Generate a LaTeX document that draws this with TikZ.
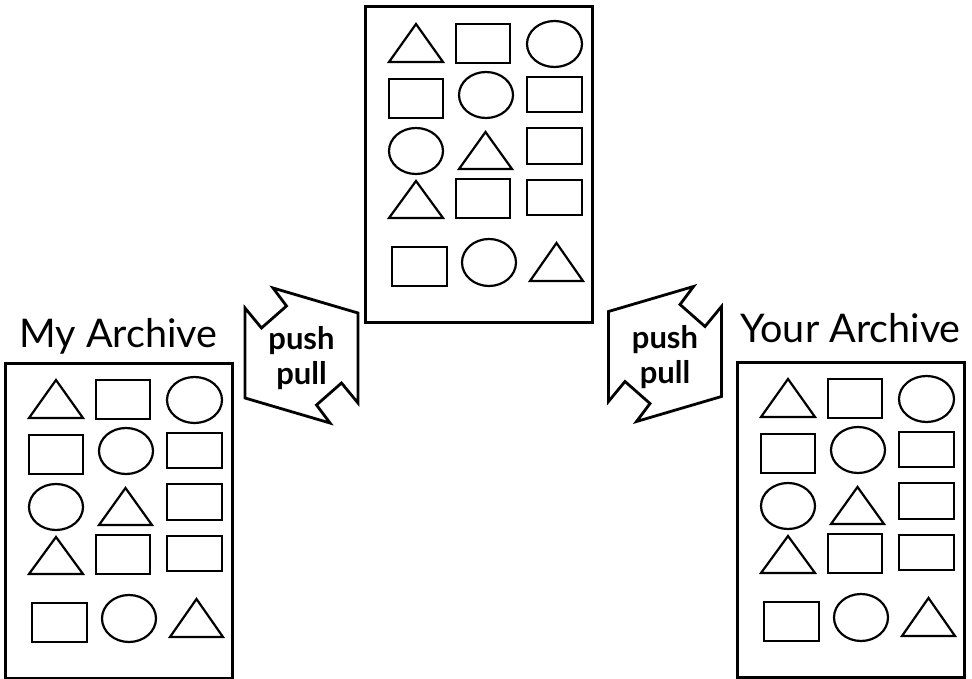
\documentclass[tikz,border=0pt]{standalone}
\usepackage{fontspec}
\setmainfont{Lato}
\usetikzlibrary{positioning}

% small figures inside an archive sheet (coordinates relative to its top left corner)
\newcommand{\archtri}[4]{\draw[figure line] (#1,#4) -- ({(#1+#3)/2},#2) -- (#3,#4) -- cycle;}
\newcommand{\archrect}[4]{\draw[figure line] (#1,#2) rectangle (#3,#4);}
\newcommand{\archoval}[4]{\draw[figure line] (#1,#2) ellipse [x radius=#3pt, y radius=#4pt];}

\begin{document}
\begin{tikzpicture}[
        x=1pt, y=-1pt,
        figure line/.style={line width=2.2pt, line join=miter},
        archive frame/.style={
            draw, line width=3pt, inner sep=0pt, outer sep=0pt,
            minimum width=227pt, minimum height=315pt
        },
        archive label/.style={font=\fontsize{39.5}{46}\selectfont, inner sep=0pt},
        sync line/.style={line width=2.8pt, line join=miter},
        sync text/.style={font=\fontsize{31}{35}\selectfont\bfseries,
                          align=center, inner sep=0pt},
        archive/.pic={
            \node[archive frame, anchor=north west] (-frame) at (0,0) {};
            %% row 1
            \archtri{24}{17}{78}{55}
            \archrect{91}{17}{145}{56}
            \archoval{189.5}{37}{27.5}{23}
            %% row 2
            \archrect{24}{72}{78}{111}
            \archoval{121}{88}{27}{23}
            \archrect{162}{70}{217}{105}
            %% row 3
            \archoval{51}{144}{27}{23}
            \archtri{94}{125}{147}{162}
            \archrect{162}{121}{217}{157}
            %% row 4
            \archtri{24}{174}{78}{211}
            \archrect{91}{172}{145}{211}
            \archrect{162}{173}{217}{208}
            %% row 5
            \archrect{27}{240}{82}{279}
            \archoval{124}{255.5}{27}{23.5}
            \archtri{165}{236}{218}{274}
        },
        sync/.pic={
            \draw[sync line] (-28.5,-67.5) -- (56.5,-42.5) -- (56.5,47.5)
                -- (40,27.5) -- (15,49.5) -- (28.5,67.5) -- (-56.5,42.5)
                -- (-56.5,-47.5) -- (-40,-27.5) -- (-15,-49.5) -- cycle;
            \node[sync text] (-word) at (0,3) {push\\pull};
        }
    ]
    \useasboundingbox (0,0) rectangle (972,679);

    %% ---- the three archives ----
    \pic (shared) at (365,7)   {archive};
    \pic (mine)   at (5,363)   {archive};
    \pic (yours)  at (737,362) {archive};

    \node[archive label, above=16pt of mine-frame.north, anchor=base] (minelabel) {My Archive};
    \node[archive label, above=20pt of yours-frame.north, anchor=base] (yourslabel) {Your Archive};

    %% ---- push / pull between them ----
    \pic (leftsync) at (301.5,355.5) {sync};
    \pic[xscale=-1] (rightsync) at (665,354) {sync};
\end{tikzpicture}
\end{document}
